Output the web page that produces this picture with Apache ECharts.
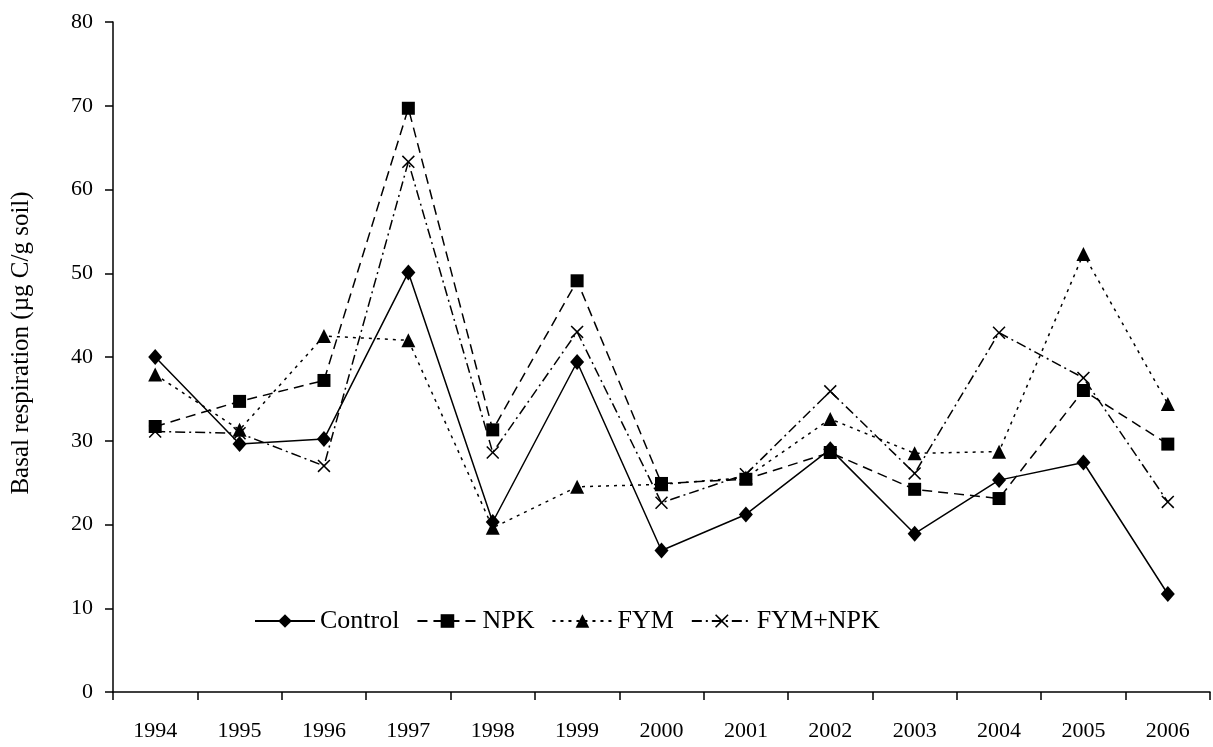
<!DOCTYPE html>
<html>
<head>
<meta charset="utf-8">
<script src="https://cdn.jsdelivr.net/npm/echarts@6/dist/echarts.min.js"></script>
<style>
  html, body { margin: 0; padding: 0; background: #fff; }
  #chart { width: 1213px; height: 747px; }
</style>
</head>
<body>
<div id="chart"></div>
<script>
// Basal respiration by treatment, 1994–2006
const years = ['1994', '1995', '1996', '1997', '1998', '1999', '2000', '2001', '2002', '2003', '2004', '2005', '2006'];
const control = [40.0, 29.6, 30.2, 50.1, 20.3, 39.4, 16.9, 21.2, 29.0, 18.9, 25.3, 27.4, 11.7];
const npk     = [31.7, 34.7, 37.2, 69.7, 31.3, 49.1, 24.9, 25.4, 28.6, 24.2, 23.1, 36.0, 29.6];
const fym     = [37.9, 31.3, 42.5, 42.0, 19.6, 24.5, 24.8, 25.6, 32.6, 28.5, 28.7, 52.3, 34.4];
const fymNpk  = [31.1, 30.9, 27.0, 63.3, 28.6, 43.0, 22.6, 26.0, 35.9, 26.1, 42.9, 37.5, 22.7];
const seriesNames = ['Control', 'NPK', 'FYM', 'FYM+NPK'];

const FONT = '"Liberation Serif", "Times New Roman", serif';
// thin filled "×" glyph used as the FYM+NPK marker
const CROSS = 'path://M0,1L1,0L6,5L11,0L12,1L7,6L12,11L11,12L6,7L1,12L0,11L5,6Z';

function lineSeries(name, data, symbol, size, dash) {
  return {
    name: name,
    type: 'line',
    data: data,
    symbol: symbol,
    symbolSize: size,
    showAllSymbol: true,
    lineStyle: { color: '#000', width: 1.5, type: dash },
    itemStyle: { color: '#000' },
    emphasis: { disabled: true }
  };
}

const chart = echarts.init(document.getElementById('chart'), null, { renderer: 'canvas' });
chart.setOption({
  animation: false,
  backgroundColor: '#fff',
  grid: { left: 113, right: 3, top: 22, bottom: 55, containLabel: false },
  legend: {
    data: seriesNames,
    left: 249,
    top: 603,
    itemWidth: 60,
    itemHeight: 17,
    itemGap: 17,
    textStyle: { fontFamily: FONT, fontSize: 26, color: '#000' }
  },
  xAxis: {
    type: 'category',
    data: years,
    boundaryGap: true,
    axisLine: { lineStyle: { color: '#000', width: 1.5 } },
    axisTick: { show: true, inside: false, length: 8, alignWithLabel: false, lineStyle: { color: '#000', width: 1.5 } },
    axisLabel: { fontFamily: FONT, fontSize: 22, color: '#000', margin: 28 },
    splitLine: { show: false }
  },
  yAxis: {
    type: 'value',
    min: 0,
    max: 80,
    interval: 10,
    name: 'Basal respiration (µg C/g soil)',
    nameLocation: 'middle',
    nameGap: 79,
    nameTextStyle: { fontFamily: FONT, fontSize: 25, color: '#000', padding: [0, 0, 0, 28] },
    axisLine: { show: true, lineStyle: { color: '#000', width: 1.5 } },
    axisTick: { show: true, inside: false, length: 8, lineStyle: { color: '#000', width: 1.5 } },
    axisLabel: { fontFamily: FONT, fontSize: 22, color: '#000', margin: 20 },
    splitLine: { show: false }
  },
  series: [
    lineSeries(seriesNames[0], control, 'diamond', [14, 16], 'solid'),
    lineSeries(seriesNames[1], npk, 'rect', 13, [10, 6]),
    lineSeries(seriesNames[2], fym, 'triangle', 14, [3, 5]),
    lineSeries(seriesNames[3], fymNpk, CROSS, 13, [10, 4, 2, 4])
  ]
});
</script>
</body>
</html>
